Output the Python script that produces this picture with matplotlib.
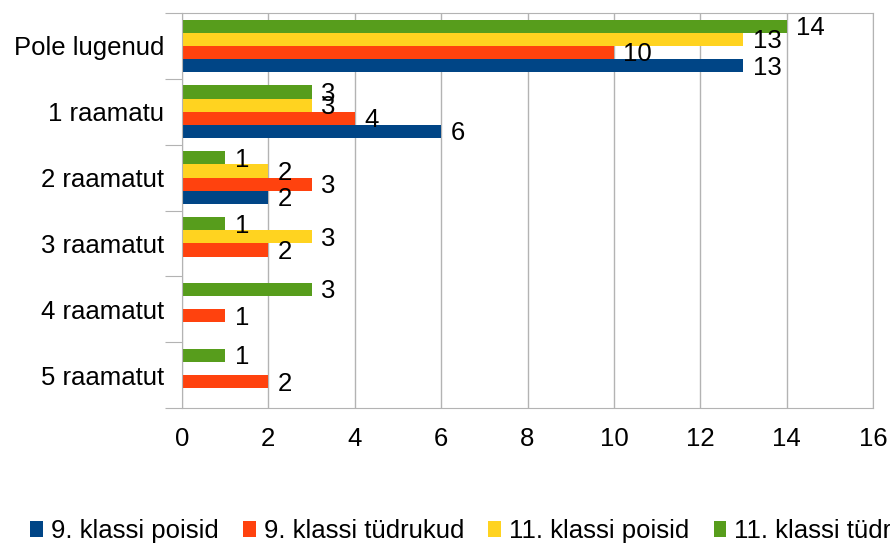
import matplotlib.pyplot as plt
import numpy as np

plt.rcParams['font.family'] = ['Liberation Sans', 'DejaVu Sans']

categories = ['Pole lugenud', '1 raamatu', '2 raamatut', '3 raamatut', '4 raamatut', '5 raamatut']
series_names = ['9. klassi poisid', '9. klassi tüdrukud', '11. klassi poisid', '11. klassi tüdrukud']
poisid_9 = [13, 6, 2, 0, 0, 0]
tydrukud_9 = [10, 4, 3, 2, 1, 2]
poisid_11 = [13, 3, 2, 3, 0, 0]
tydrukud_11 = [14, 3, 1, 1, 3, 1]
colors = ['#004586', '#ff420e', '#ffd320', '#579d1c']

values = [poisid_9, tydrukud_9, poisid_11, tydrukud_11]
FS = 18.5

fig = plt.figure(figsize=(8.9, 5.44), dpi=100)
ax = fig.add_axes([182 / 890, 1 - 408 / 544, (873 - 182) / 890, (408 - 13) / 544])

n = len(categories)
# category 0 at top
centers = np.arange(n)[::-1] + 0.5
h = 0.2
handles = []
for i, (vals, col, name) in enumerate(zip(values, colors, series_names)):
    # blue lowest within group, green highest
    y = centers - 0.3 + i * h
    b = ax.barh(y, vals, height=h, color=col, label=name)
    handles.append(b)
    for yy, v in zip(y, vals):
        if v:
            ax.text(v + 0.22, yy - 0.03, str(v), va='center', ha='left', fontsize=FS)

ax.set_xlim(0, 16)
ax.set_ylim(0, n)
ax.set_xticks(range(0, 17, 2))
ax.tick_params(axis='x', length=0, pad=14, labelsize=FS)
ax.set_yticks(range(n + 1))
ax.set_yticklabels([])
ax.tick_params(axis='y', which='major', length=12, color='#b3b3b3', direction='out')
ax.set_yticks(centers, minor=True)
ax.set_yticklabels(categories, minor=True, fontsize=FS)
ax.tick_params(axis='y', which='minor', length=0, pad=13)
ax.grid(axis='x', color='#b3b3b3', linewidth=1)
ax.set_axisbelow(True)
for s in ax.spines.values():
    s.set_color('#b3b3b3')

fig.legend(handles=handles, loc='center left', bbox_to_anchor=(20 / 890, 1 - 531 / 544),
           ncol=4, frameon=False, fontsize=FS, handlelength=0.5, handleheight=0.55,
           handletextpad=0.3, columnspacing=0.95, borderaxespad=0)

fig.savefig('out.png', dpi=100)
